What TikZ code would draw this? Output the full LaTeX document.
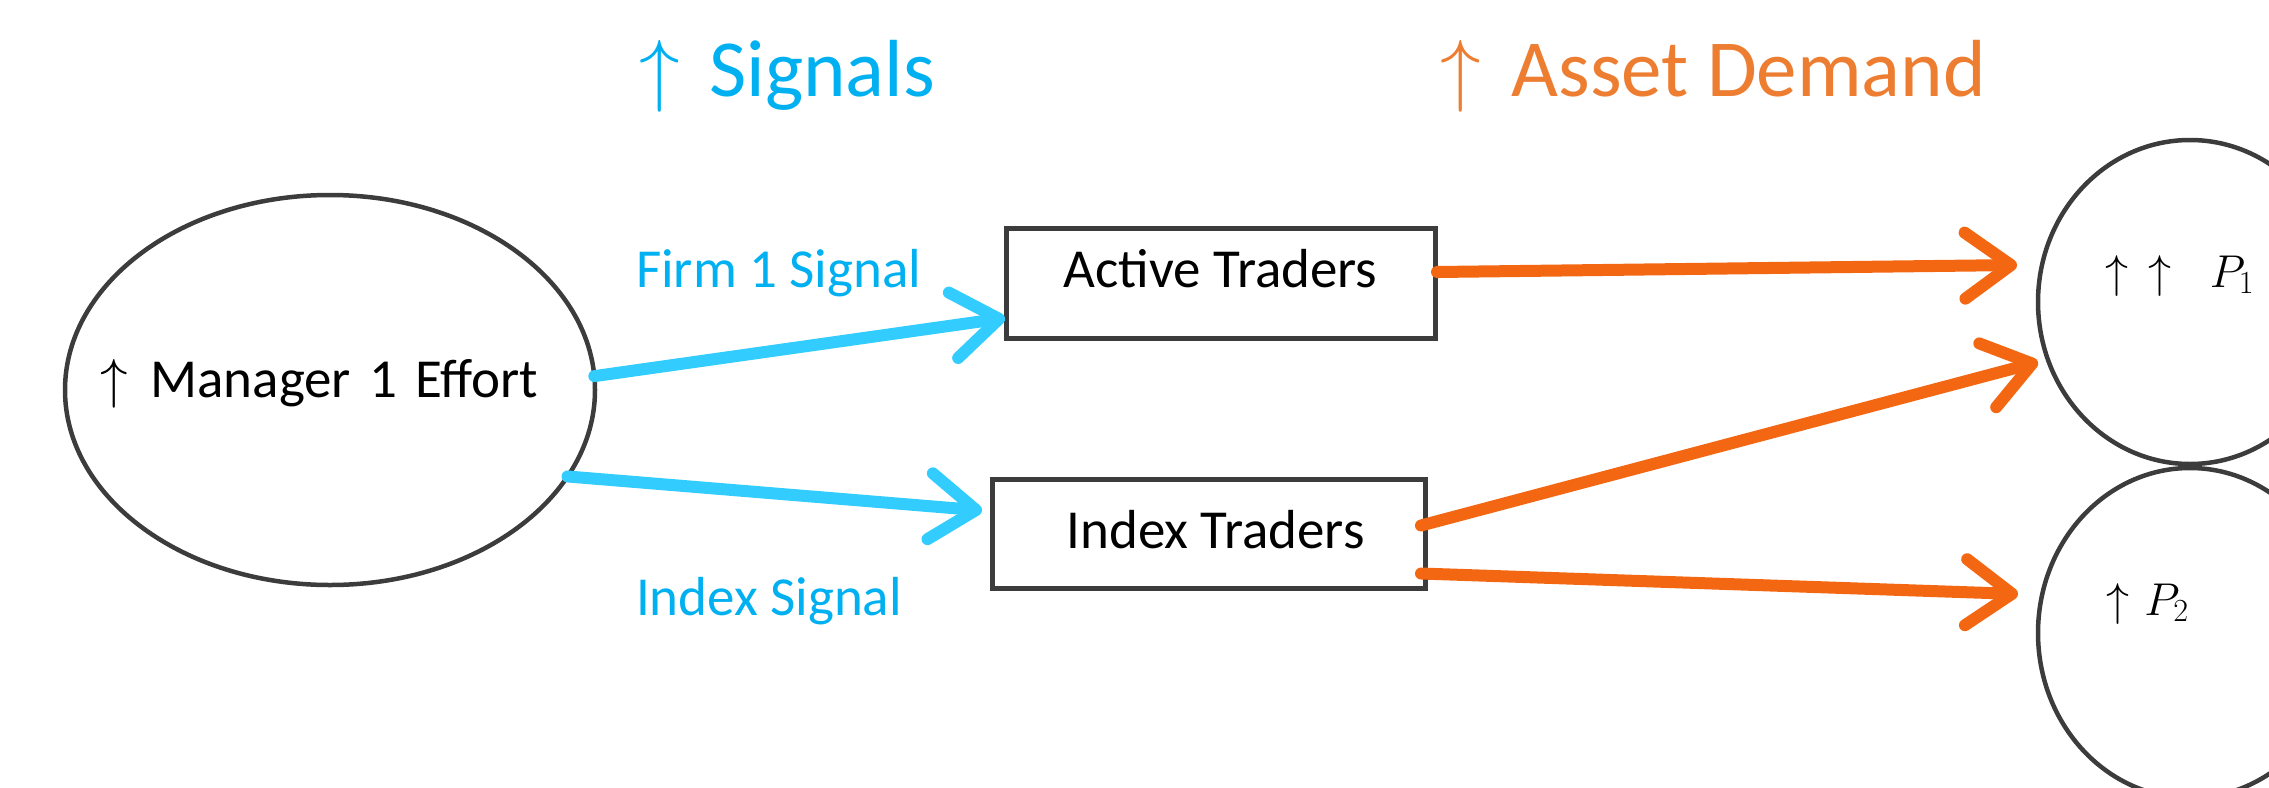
\RequirePackage{fix-cm}
\documentclass[tikz,border=0pt]{standalone}
\usepackage{fontspec}
\setmainfont{Carlito}
\usetikzlibrary{arrows.meta,shapes.geometric,calc}
\definecolor{sigblue}{RGB}{51,204,255}
\definecolor{sigbluetext}{RGB}{0,176,240}
\definecolor{demorange}{RGB}{244,103,18}
\definecolor{demorangetext}{RGB}{237,125,49}
\definecolor{outline}{RGB}{60,60,60}
\begin{document}
\begin{tikzpicture}[x=1pt,y=-1pt,
  body/.style={font=\fontsize{55}{60}\selectfont},
  pfont/.style={font=\fontsize{46}{50}\selectfont},
  title/.style={font=\fontsize{81}{88}\selectfont, anchor=base west, inner sep=0pt, outer sep=0pt},
  lbl/.style={body, text=sigbluetext, anchor=base west, inner sep=0pt, outer sep=0pt},
  oval/.style={ellipse, draw=outline, line width=4.5pt, inner sep=0pt, outer sep=0pt},
  trader/.style={rectangle, draw=outline, line width=5pt, inner sep=0pt, outer sep=0pt, body},
  sig/.style={draw=sigblue, line width=12pt, line cap=round, -{Straight Barb[length=46pt,width=66pt,round]}},
  dem/.style={draw=demorange, line width=12pt, line cap=round, -{Straight Barb[length=46pt,width=66pt,round]}}
]
\useasboundingbox (0,0) rectangle (2269,787);
\clip (0,0) rectangle (2269,787);

% titles
\node[title, text=sigbluetext] (tsig) at (639,96) {$\uparrow$\hspace{30pt}Signals};
\node[title, text=demorangetext] (tdem) at (1440,96) {$\uparrow$\hspace{31pt}Asset Demand};

% manager
\node[oval, body, minimum width=530pt, minimum height=390pt, text width=460pt, align=left,
      inner xsep=-60pt, text height=40pt, text depth=26pt] (mgr) at (330,390) {$\uparrow$\hspace{23pt}Manager 1 Effort};

% traders
\node[trader, minimum width=429pt, minimum height=110pt, text height=38pt, text depth=30pt] (act) at (1220.5,283) {Active Traders};
\node[trader, minimum width=433pt, minimum height=109pt, text height=45pt, text depth=16pt] (idx) at (1208.5,533.5) {\hspace*{14pt}Index Traders};

% prices
\node[oval, pfont, minimum width=304pt, minimum height=324pt, text width=170pt, align=left,
      text height=20pt, text depth=50pt] (p1) at (2190,302) {$\uparrow\mkern8mu\uparrow\mkern10mu P_1$};
\node[oval, pfont, minimum width=304pt, minimum height=330pt, text width=168pt, align=left,
      text height=20pt, text depth=56pt] (p2) at (2190,633) {$\uparrow\mkern1mu P_2$};

% signal labels
\node[lbl] (lfirm) at (636,287) {Firm 1 Signal};
\node[lbl] (lindex) at (636,615) {Index Signal};

% connectors
\draw[sig] (mgr.3.7) -- ($(act.west)+(-1,35)$);
\draw[sig] (mgr.-20.5) -- ($(idx.west)+(-10,-23)$);
\draw[dem] ($(act.east)+(2,-11)$) -- ($(p1.west)+(-21,-37)$);
\draw[dem] ($(idx.east)+(-4,-8)$) -- ($(p1.west)+(0,60)$);
\draw[dem] ($(idx.east)+(-4,40)$) -- ($(p2.west)+(-20,-39)$);
\end{tikzpicture}
\end{document}
